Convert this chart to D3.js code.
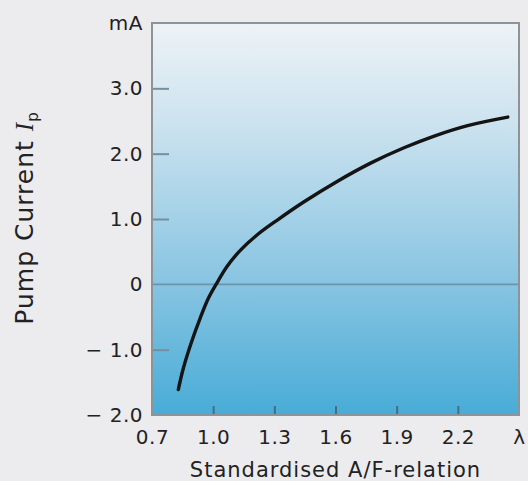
<!DOCTYPE html>
<html>
<head>
<meta charset="utf-8">
<script src="https://cdn.jsdelivr.net/npm/d3@7"></script>
<style>
  html, body { margin: 0; padding: 0; background: #ececee; }
  svg { display: block; }
  text { font-family: "DejaVu Sans", "Noto Sans", sans-serif; fill: #222; }
</style>
</head>
<body>
<div id="chart"></div>
<script>
// Pump current vs. standardised A/F-relation (lambda)
const lambdaValues = [0.829, 0.854, 0.895, 0.936, 0.977, 1.018, 1.067, 1.133, 1.215, 1.313, 1.444, 1.608, 1.772, 1.936, 2.084, 2.248, 2.445];
const pumpCurrent  = [-1.61, -1.28, -0.87, -0.52, -0.21, 0.02, 0.27, 0.52, 0.755, 0.98, 1.26, 1.575, 1.855, 2.09, 2.27, 2.43, 2.56];

const xTicks = [0.7, 1.0, 1.3, 1.6, 1.9, 2.2, 2.5];
const yTicks = [-2, -1, 0, 1, 2, 3, 4];

const width = 528, height = 481;
const plot = { left: 152, right: 519, top: 23, bottom: 415 };

const svg = d3.select('#chart')
    .append('svg')
    .attr('width', width)
    .attr('height', height);

const x = d3.scaleLinear().domain([0.7, 2.5]).range([plot.left, plot.right]);
const y = d3.scaleLinear().domain([-2, 4]).range([plot.bottom, plot.top]);

// background gradient of the plot area
const defs = svg.append('defs');
const grad = defs.append('linearGradient')
    .attr('id', 'bg')
    .attr('x1', 0).attr('y1', 0).attr('x2', 0).attr('y2', 1);
grad.append('stop').attr('offset', '0%').attr('stop-color', '#eef2f6');
grad.append('stop').attr('offset', '25%').attr('stop-color', '#cde3ef');
grad.append('stop').attr('offset', '65%').attr('stop-color', '#8ac5e2');
grad.append('stop').attr('offset', '100%').attr('stop-color', '#48acd7');

svg.append('rect')
    .attr('x', plot.left)
    .attr('y', plot.top)
    .attr('width', plot.right - plot.left)
    .attr('height', plot.bottom - plot.top)
    .attr('fill', 'url(#bg)');

// zero line
svg.append('line')
    .attr('x1', plot.left).attr('x2', plot.right)
    .attr('y1', y(0)).attr('y2', y(0))
    .attr('stroke', '#6b95ad')
    .attr('stroke-width', 1.6);

// y axis (ticks point inward)
const fmtY = d => d === 4 ? 'mA' : d === 0 ? '0' : d < 0 ? '\u2212 ' + Math.abs(d).toFixed(1) : d.toFixed(1);
const yAxis = svg.append('g')
    .attr('transform', `translate(${plot.left},0)`)
    .call(d3.axisLeft(y).tickValues(yTicks).tickSize(-17).tickPadding(9).tickFormat(fmtY));
yAxis.select('.domain').remove();
yAxis.selectAll('.tick line')
    .attr('stroke', '#74909f')
    .attr('stroke-width', 2)
    .attr('display', d => (d === 0 || d === -2 || d === 4) ? 'none' : null);
yAxis.selectAll('.tick text')
    .style('font-size', '20px')
    .style('letter-spacing', '0.5px')
    .attr('fill', '#222');

// x axis (ticks point inward)
const fmtX = d => d === 2.5 ? '\u03bb' : d.toFixed(1);
const xAxis = svg.append('g')
    .attr('transform', `translate(0,${plot.bottom})`)
    .call(d3.axisBottom(x).tickValues(xTicks).tickSize(-9).tickPadding(15).tickFormat(fmtX));
xAxis.select('.domain').remove();
xAxis.selectAll('.tick line')
    .attr('stroke', '#3f6f88')
    .attr('stroke-width', 2)
    .attr('display', d => (d === 0.7 || d === 2.5) ? 'none' : null);
xAxis.selectAll('.tick text')
    .style('font-size', '20px')
    .style('letter-spacing', '0.5px')
    .attr('fill', '#222');

// frame
svg.append('rect')
    .attr('x', plot.left)
    .attr('y', plot.top)
    .attr('width', plot.right - plot.left)
    .attr('height', plot.bottom - plot.top)
    .attr('fill', 'none')
    .attr('stroke', '#8c949a')
    .attr('stroke-width', 2);

// curve
const line = d3.line()
    .x((d, i) => x(lambdaValues[i]))
    .y(d => y(d))
    .curve(d3.curveCatmullRom.alpha(0.5));

svg.append('path')
    .datum(pumpCurrent)
    .attr('d', line)
    .attr('fill', 'none')
    .attr('stroke', '#141414')
    .attr('stroke-width', 3.4)
    .attr('stroke-linecap', 'round');

// axis titles
svg.append('text')
    .attr('x', (plot.left + plot.right) / 2)
    .attr('y', 477)
    .attr('text-anchor', 'middle')
    .style('font-size', '21px')
    .style('letter-spacing', '1px')
    .text('Standardised A/F-relation');

const yTitle = svg.append('text')
    .attr('transform', 'translate(33,218) rotate(-90)')
    .attr('text-anchor', 'middle')
    .style('font-size', '25px')
    .style('letter-spacing', '1px');
yTitle.append('tspan').text('Pump Current ');
yTitle.append('tspan')
    .style('font-family', '"Liberation Serif", "DejaVu Serif", serif')
    .style('font-style', 'italic')
    .text('I');
yTitle.append('tspan')
    .attr('dy', 5)
    .style('font-size', '15px')
    .text('p');
</script>
</body>
</html>
